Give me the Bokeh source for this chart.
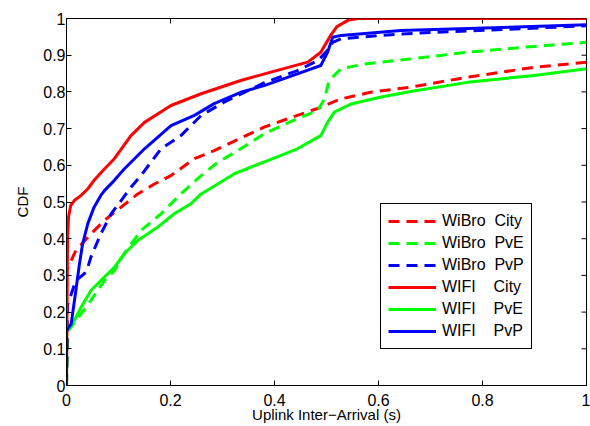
import math
from bokeh.plotting import figure
from bokeh.models import Range1d, FixedTicker, Legend, LegendItem, CustomJSTickFormatter
from bokeh.embed import file_html
from bokeh.resources import INLINE

# ---- data ----
x_ticks = [0, 0.2, 0.4, 0.6, 0.8, 1.0]
y_ticks = [0, 0.1, 0.2, 0.3, 0.4, 0.5, 0.6, 0.7, 0.8, 0.9, 1.0]

wibro_city_x = [0, 0, 0.018, 0.047, 0.073, 0.105, 0.137, 0.169, 0.201, 0.246, 0.284, 0.326,
                0.380, 0.444, 0.489, 0.528, 0.585, 0.662, 0.771, 0.899, 1.0]
wibro_city_y = [0, 0.313, 0.368, 0.413, 0.450, 0.486, 0.522, 0.549, 0.572, 0.618, 0.640, 0.668,
                0.704, 0.736, 0.758, 0.781, 0.799, 0.813, 0.840, 0.867, 0.881]

wibro_pve_x = [0, 0.003, 0.0087, 0.028, 0.047, 0.073, 0.092, 0.111, 0.143, 0.182, 0.220, 0.259,
               0.291, 0.335, 0.380, 0.444, 0.483, 0.496, 0.505, 0.528, 0.573, 0.662, 0.771,
               0.899, 1.0]
wibro_pve_y = [0, 0.15, 0.159, 0.195, 0.232, 0.286, 0.313, 0.359, 0.422, 0.468, 0.522, 0.572,
               0.608, 0.645, 0.686, 0.727, 0.749, 0.781, 0.831, 0.863, 0.876, 0.890, 0.908,
               0.924, 0.935]

wibro_pvp_x = [0, 0.002, 0.018, 0.034, 0.041, 0.047, 0.066, 0.086, 0.105, 0.124, 0.143, 0.182,
               0.220, 0.259, 0.303, 0.380, 0.444, 0.483, 0.500, 0.512, 0.528, 0.643, 1.0]
wibro_pvp_y = [0, 0.22, 0.286, 0.304, 0.322, 0.35, 0.413, 0.468, 0.504, 0.540, 0.572, 0.645,
               0.681, 0.736, 0.772, 0.825, 0.858, 0.885, 0.91, 0.935, 0.945, 0.958, 0.98]

wifi_city_x = [0, 0.002, 0.004, 0.008, 0.015, 0.028, 0.041, 0.053, 0.073, 0.092, 0.124, 0.150,
               0.201, 0.259, 0.335, 0.393, 0.464, 0.489, 0.508, 0.52, 0.541, 0.56, 1.0]
wifi_city_y = [0, 0.40, 0.46, 0.49, 0.504, 0.518, 0.536, 0.559, 0.590, 0.618, 0.681, 0.717,
               0.763, 0.795, 0.831, 0.854, 0.881, 0.908, 0.954, 0.978, 0.995, 1.0, 1.0]

wifi_pve_x = [0, 0, 0.002, 0.015, 0.028, 0.047, 0.066, 0.092, 0.111, 0.137, 0.175, 0.207, 0.239,
              0.259, 0.323, 0.387, 0.444, 0.489, 0.502, 0.515, 0.547, 0.605, 0.662, 0.771,
              0.899, 1.0]
wifi_pve_y = [0, 0.15, 0.154, 0.177, 0.213, 0.259, 0.286, 0.322, 0.359, 0.395, 0.431, 0.468,
              0.495, 0.522, 0.577, 0.613, 0.645, 0.681, 0.717, 0.745, 0.767, 0.786, 0.801,
              0.826, 0.845, 0.863]

wifi_pvp_x = [0, 0, 0.004, 0.009, 0.018, 0.025, 0.031, 0.041, 0.053, 0.066, 0.073, 0.092, 0.111,
              0.150, 0.201, 0.246, 0.284, 0.335, 0.380, 0.444, 0.489, 0.502, 0.512, 0.528,
              0.643, 1.0]
wifi_pvp_y = [0, 0.15, 0.158, 0.168, 0.259, 0.332, 0.386, 0.441, 0.486, 0.518, 0.531, 0.559,
              0.590, 0.645, 0.708, 0.736, 0.768, 0.799, 0.817, 0.849, 0.872, 0.908, 0.949,
              0.954, 0.967, 0.983]

NB = "\u00a0"
series = [
    ("WiBro" + NB * 2 + "City", wibro_city_x, wibro_city_y, "#ff0000", "dashed"),
    ("WiBro" + NB * 2 + "PvE", wibro_pve_x, wibro_pve_y, "#00ff00", "dashed"),
    ("WiBro" + NB * 2 + "PvP", wibro_pvp_x, wibro_pvp_y, "#0000ff", "dashed"),
    ("WIFI" + NB * 4 + "City", wifi_city_x, wifi_city_y, "#ff0000", "solid"),
    ("WIFI" + NB * 4 + "PvE", wifi_pve_x, wifi_pve_y, "#00ff00", "solid"),
    ("WIFI" + NB * 4 + "PvP", wifi_pvp_x, wifi_pvp_y, "#0000ff", "solid"),
]
x_title = "Uplink Inter\u2212Arrival (s)"
y_title = "CDF"

FONT = "Liberation Sans"

p = figure(width=590, height=426, x_range=Range1d(0, 1), y_range=Range1d(0, 1),
           output_backend="svg", toolbar_location=None,
           min_border_left=66, min_border_right=4, min_border_top=18, min_border_bottom=41)
p.background_fill_color = "white"
p.border_fill_color = "white"
p.outline_line_color = "black"
p.outline_line_width = 1
p.outline_line_alpha = 1
p.xgrid.visible = False
p.ygrid.visible = False

fmt = CustomJSTickFormatter(code="return String(Math.round(tick*10)/10)")

for ax, ticks in ((p.xaxis[0], x_ticks), (p.yaxis[0], y_ticks)):
    ax.ticker = FixedTicker(ticks=ticks)
    ax.formatter = fmt
    ax.major_tick_in = 5
    ax.major_tick_out = 0
    ax.minor_tick_line_color = None
    ax.axis_line_color = "black"
    ax.major_tick_line_color = "black"
    ax.major_label_text_color = "black"
    ax.major_label_text_font = FONT
    ax.major_label_text_font_size = "16px"
    ax.axis_label_text_font = FONT
    ax.axis_label_text_font_size = "15px"
    ax.axis_label_text_font_style = "normal"
    ax.axis_label_text_color = "black"

p.xaxis[0].axis_label = x_title
p.yaxis[0].axis_label = y_title
p.xaxis[0].major_label_standoff = 8
p.xaxis[0].axis_label_standoff = -3
p.yaxis[0].major_label_standoff = 1
p.yaxis[0].axis_label_standoff = 9

# inward ticks on the top and right edges of the box (MATLAB style)
p.ray(x=x_ticks, y=[1] * len(x_ticks), length=5, length_units="screen",
      angle=-math.pi / 2, line_color="black", line_width=1)
p.ray(x=[1] * len(y_ticks), y=y_ticks, length=5, length_units="screen",
      angle=math.pi, line_color="black", line_width=1)

items = []
for label, xs, ys, color, dash in series:
    if dash == "dashed":
        r = p.line(xs, ys, line_color=color, line_width=3, line_dash="11 7")
    else:
        r = p.line(xs, ys, line_color=color, line_width=3, line_join="round")
    items.append(LegendItem(label=label, renderers=[r]))

legend = Legend(items=items, location=(314, 36))
legend.border_line_color = "black"
legend.border_line_width = 1
legend.border_line_alpha = 1
legend.background_fill_color = "white"
legend.background_fill_alpha = 1
legend.padding = 7
legend.spacing = 2
legend.margin = 0
legend.label_height = 20
legend.glyph_height = 20
legend.glyph_width = 48
legend.label_standoff = 6
legend.label_text_font = "Arial"
legend.label_text_font_size = "16px"
legend.label_text_color = "black"
p.add_layout(legend)

open("out.html", "w").write(file_html(p, INLINE))
